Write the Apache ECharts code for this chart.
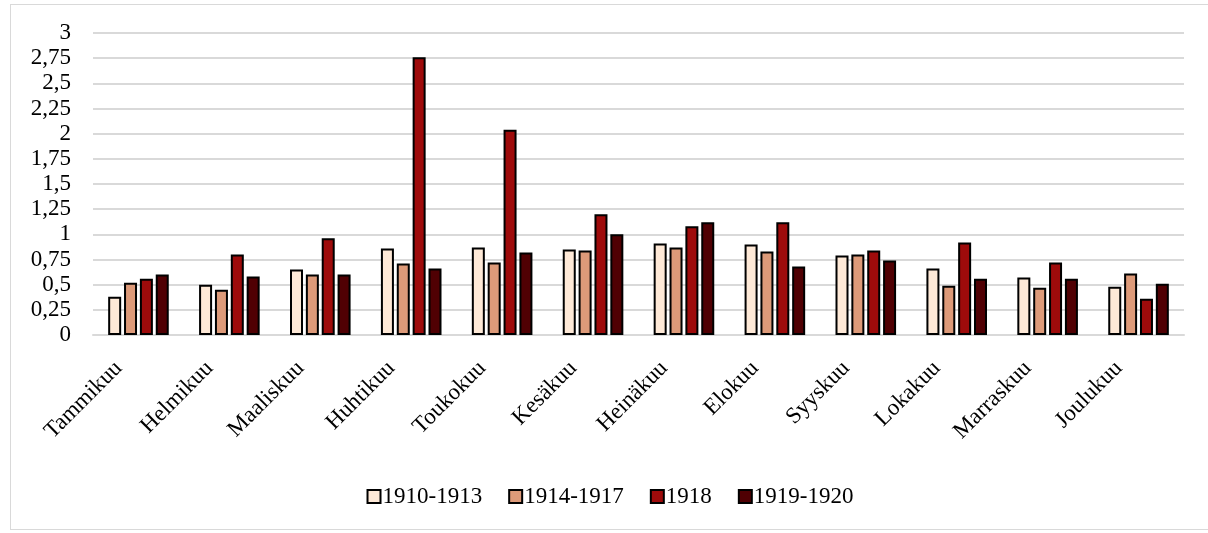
<!DOCTYPE html>
<html lang="fi">
<head>
	<meta charset="UTF-8">
	<title>Kuukausittain</title>
	<script type="text/javascript" src="https://cdn.jsdelivr.net/npm/echarts@6/dist/echarts.min.js"></script>
	<style type="text/css">
	body{margin: 0; background: #fff;}
	#container{position: absolute; left: 10px; top: 4px; width: 1200px; height: 526px; border: 1px solid #d9d9d9; box-sizing: border-box;}
	</style>
</head>
<body>
	<div id="container"></div>
	<script type="text/javascript">
		var months = ['Tammikuu', 'Helmikuu', 'Maaliskuu', 'Huhtikuu', 'Toukokuu', 'Kesäkuu', 'Heinäkuu', 'Elokuu', 'Syyskuu', 'Lokakuu', 'Marraskuu', 'Joulukuu'];
		var names = ['1910-1913', '1914-1917', '1918', '1919-1920'];
		var colors = ['#fee9d7', '#dd9a79', '#9e0b0b', '#500003'];
		var v1910 = [0.38, 0.50, 0.65, 0.86, 0.87, 0.85, 0.91, 0.90, 0.79, 0.66, 0.57, 0.48];
		var v1914 = [0.52, 0.45, 0.60, 0.71, 0.72, 0.84, 0.87, 0.83, 0.80, 0.49, 0.47, 0.61];
		var v1918 = [0.56, 0.80, 0.96, 2.76, 2.04, 1.20, 1.08, 1.12, 0.84, 0.92, 0.72, 0.36];
		var v1919 = [0.60, 0.58, 0.60, 0.66, 0.82, 1.00, 1.12, 0.68, 0.74, 0.56, 0.56, 0.51];
		var values = [v1910, v1914, v1918, v1919];

		var font = 'Liberation Serif';
		var myChart = echarts.init(document.getElementById('container'));

		var series = [];
		for (var i = 0; i < names.length; i++) {
			series.push({
				name: names[i],
				type: 'bar',
				data: values[i],
				barWidth: 13,
				barGap: '22%',
				itemStyle: {color: colors[i], borderColor: '#000', borderWidth: 2}
			});
		}

		var option = {
			animation: false,
			textStyle: {fontFamily: font},
			grid: {left: 82, right: 25, top: 28, bottom: 194},
			legend: {
				bottom: 16,
				left: 'center',
				icon: 'rect',
				itemWidth: 13,
				itemHeight: 13,
				itemGap: 26,
				textStyle: {fontFamily: font, fontSize: 23, color: '#000', padding: [0, 0, 0, -3]},
				data: names
			},
			xAxis: {
				type: 'category',
				data: months,
				axisLine: {lineStyle: {color: '#d9d9d9', width: 2}},
				axisTick: {show: false},
				axisLabel: {rotate: 45, fontFamily: font, fontSize: 23, color: '#000', margin: 10, padding: [0, 28, 0, 0], interval: 0}
			},
			yAxis: {
				type: 'value',
				min: 0,
				max: 3,
				interval: 0.25,
				axisLine: {show: false},
				axisTick: {show: false},
				splitLine: {lineStyle: {color: '#d9d9d9', width: 2}},
				axisLabel: {
					fontFamily: font, fontSize: 23, color: '#000', margin: 22,
					formatter: function (v) { return String(v).replace('.', ','); }
				}
			},
			series: series
		};
		myChart.setOption(option);
	</script>
</body>
</html>
